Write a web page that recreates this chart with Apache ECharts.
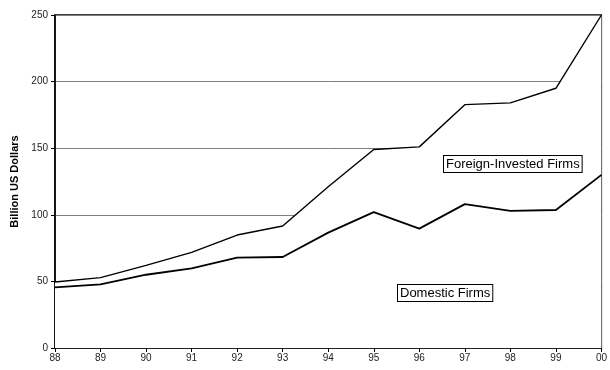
<!DOCTYPE html>
<html>
<head>
<meta charset="utf-8">
<script src="https://cdn.jsdelivr.net/npm/echarts@6/dist/echarts.min.js"></script>
<style>
  html, body { margin: 0; padding: 0; background: #fff; }
  #chart { width: 610px; height: 370px; }
</style>
</head>
<body>
<div id="chart"></div>
<script>
// Years on the horizontal axis
const years = ['88', '89', '90', '91', '92', '93', '94', '95', '96', '97', '98', '99', '00'];
// Domestic firms (bottom band), billion US dollars
const domesticFirms = [45.5, 47.8, 55, 59.8, 67.8, 68.3, 86.6, 102, 89.6, 108, 103, 103.6, 130];
// Foreign-invested firms, stacked on top of domestic firms
const foreignFirms = [4, 5, 7, 12, 17, 23.3, 34.4, 47, 61.4, 74.7, 81, 91.4, 120];
// Value axis ticks
const yTicks = [0, 50, 100, 150, 200, 250];

const font = 'Liberation Sans, Arial, sans-serif';
const chart = echarts.init(document.getElementById('chart'), null, { renderer: 'canvas' });

chart.setOption({
  animation: false,
  backgroundColor: '#fff',
  grid: {
    left: 55, right: 2, top: 15, bottom: 22,
    show: true, borderColor: '#000', borderWidth: 1.3, backgroundColor: 'transparent'
  },
  xAxis: {
    type: 'category',
    data: years,
    boundaryGap: false,
    axisLine: { lineStyle: { color: '#000', width: 1.5 } },
    axisTick: { show: true, length: 4, lineStyle: { color: '#000' }, alignWithLabel: true },
    axisLabel: { color: '#222', fontSize: 10, fontFamily: font, margin: 5, showMaxLabel: true }
  },
  yAxis: {
    type: 'value',
    min: yTicks[0],
    max: yTicks[yTicks.length - 1],
    interval: 50,
    name: 'Billion US Dollars',
    nameLocation: 'middle',
    nameGap: 34,
    nameTextStyle: { color: '#000', fontSize: 11, fontWeight: 'bold', fontFamily: font },
    axisLine: { show: true, lineStyle: { color: '#000', width: 1.5 } },
    axisTick: { show: true, length: 4, lineStyle: { color: '#000' } },
    axisLabel: { color: '#222', fontSize: 10, fontFamily: font, margin: 7 },
    splitLine: { show: true, lineStyle: { color: '#808080', width: 1 } }
  },
  series: [
    {
      name: 'Domestic Firms',
      type: 'line',
      stack: 'total',
      data: domesticFirms,
      symbol: 'none',
      lineStyle: { color: '#000', width: 1.8 },
      areaStyle: { color: '#fff', opacity: 1 },
      z: 3
    },
    {
      name: 'Foreign-Invested Firms',
      type: 'line',
      stack: 'total',
      data: foreignFirms,
      symbol: 'none',
      lineStyle: { color: '#000', width: 1.4 },
      areaStyle: { color: '#fff', opacity: 1 },
      z: 2
    }
  ],
  graphic: [
    {
      type: 'text',
      left: 443, top: 155,
      style: {
        text: 'Foreign-Invested Firms',
        font: '13px ' + font,
        fill: '#000',
        backgroundColor: '#fff',
        borderColor: '#000',
        borderWidth: 1,
        padding: [2, 2, 1, 2]
      },
      z: 10
    },
    {
      type: 'text',
      left: 397, top: 284,
      style: {
        text: 'Domestic Firms',
        font: '13px ' + font,
        fill: '#000',
        backgroundColor: '#fff',
        borderColor: '#000',
        borderWidth: 1,
        padding: [2, 2, 1, 2]
      },
      z: 10
    }
  ]
});
</script>
</body>
</html>
